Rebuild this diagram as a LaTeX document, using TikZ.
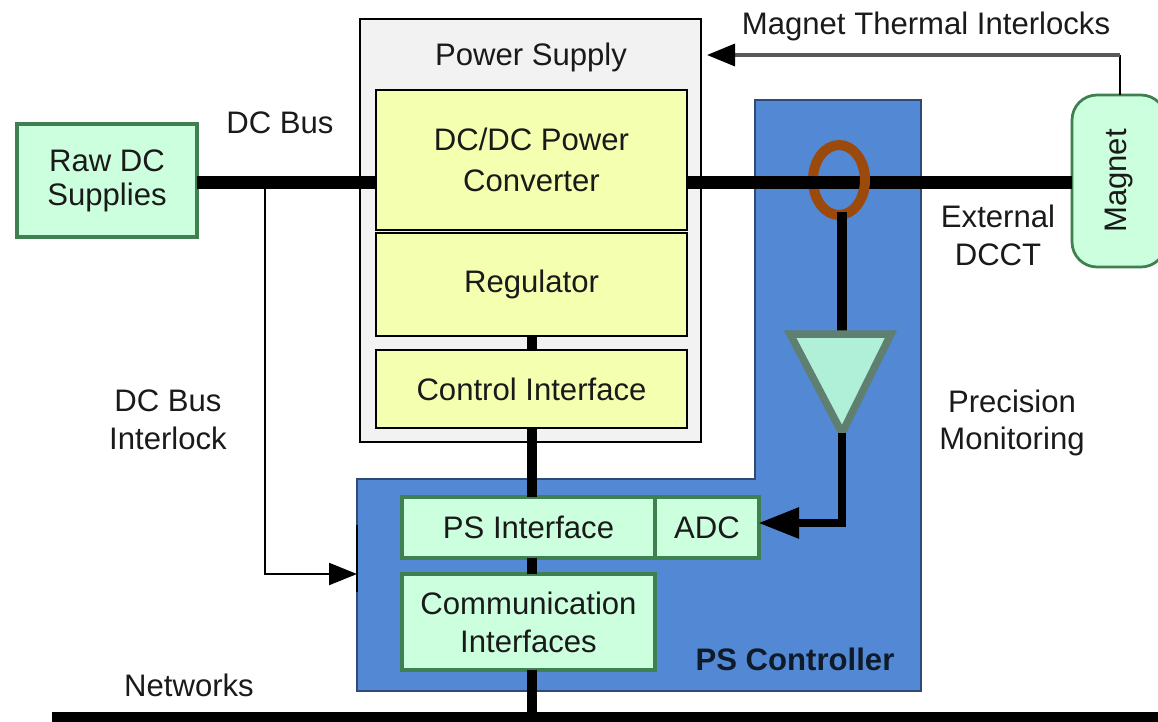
\documentclass[tikz,border=0pt]{standalone}
\usepackage{fontspec}
\setmainfont{Liberation Sans}
\usetikzlibrary{arrows.meta,shapes.geometric}
\definecolor{inkblack}{HTML}{1A1A1A}
\definecolor{mintfill}{HTML}{CCFFDD}
\definecolor{mintline}{HTML}{3F8050}
\definecolor{lemonfill}{HTML}{F5FFB0}
\definecolor{ctrlblue}{HTML}{5288D4}
\definecolor{ringbrown}{HTML}{9C4A0C}
\definecolor{ampfill}{HTML}{B0F0D8}
\definecolor{ampline}{HTML}{5F8070}
\tikzset{
  every node/.style={font=\fontsize{17.7}{21.5}\selectfont,text=inkblack,align=center,inner sep=0pt,outer sep=0pt},
  greenbox/.style={draw=mintline,fill=mintfill,line width=0.75mm},
  yellowbox/.style={draw=black,fill=lemonfill,line width=0.45mm},
  bus/.style={line width=2.6mm,black},
  signal/.style={line width=2mm,black},
  thinline/.style={line width=0.45mm,black},
  thinarrow/.style={thinline,-{Triangle[length=5.6mm,width=4.4mm]}},
  ring/.style={draw=ringbrown,line width=2mm},
}
\begin{document}
\begin{tikzpicture}[x=0.2mm,y=-0.2mm]
\clip (0,0) rectangle (1158,721);

% Power Supply
\node[draw=black,fill=black!5,line width=0.45mm,minimum width=68.2mm,minimum height=84.6mm] (supply) at (530.5,230.5) {};
\node (supplytext) at (531,57) {Power Supply};

% PS Controller
\draw[draw=black!45!ctrlblue,fill=ctrlblue,line width=0.4mm] (357,479)--(755,479)--(755,100)--(921,100)--(921,691)--(357,691)--cycle;
\node[font=\fontsize{17.7}{21.5}\selectfont\bfseries,text=black!80!ctrlblue] (ctrltext) at (795,659) {PS Controller};
\coordinate (ctrlwest) at (357,574);
\coordinate (ctrlbartop) at (357,525);
\coordinate (ctrlbarbot) at (357,592);

% Power Supply blocks
\node[yellowbox,minimum width=62.2mm,minimum height=28mm] (dcdc) at (531.5,160) {\raisebox{1.5pt}{DC/DC Power}\\Converter};
\node[yellowbox,minimum width=62.2mm,minimum height=20.6mm] (regulator) at (531.5,284.5) {Regulator};
\node[yellowbox,minimum width=62.2mm,minimum height=15.6mm] (ctrlif) at (531.5,389) {Control Interface};

% Controller blocks
\node[greenbox,minimum width=50.6mm,minimum height=12.2mm] (psif) at (528.5,527.5) {PS Interface};
\node[greenbox,minimum width=20.8mm,minimum height=12.2mm] (adc) at (707,527.5) {ADC};
\node[greenbox,minimum width=50.6mm,minimum height=19.2mm] (comm) at (528.5,622) {Communication\\Interfaces};

% Raw DC, Magnet
\node[greenbox,minimum width=36mm,minimum height=22.6mm] (rawdc) at (107,180.5) {\raisebox{-2pt}{Raw DC}\\Supplies};
\node[draw=mintline,fill=mintfill,line width=0.55mm,rounded corners=5mm,rotate=90,minimum width=34.4mm,minimum height=18.8mm] (magnet) at (1119,181) {Magnet};

% Networks line
\coordinate (netleft) at (52,718);
\coordinate (netright) at (1158,718);
\draw[bus] (netleft)--(netright);

% DC bus
\coordinate (rawbus) at (197,182);
\coordinate (dcdcin) at (376,182);
\coordinate (dcdcout) at (687,182);
\coordinate (magnetin) at (1072,182);
\coordinate (bustap) at (265,182);
\coordinate (ringcentre) at (839,180);
\node[ring,ellipse,minimum width=10.4mm,minimum height=14mm] (dcct) at (ringcentre) {};
\draw[bus] (rawbus)--(dcdcin);
\draw[bus] (dcdcout)--(magnetin);
\draw[ring] (861.5,197.5) arc[start angle=-30,end angle=30,x radius=5.2mm,y radius=7mm];

% DC bus interlock
\draw[thinarrow] (bustap)--(bustap |- ctrlwest)--(ctrlwest);
\draw[thinline] (ctrlbartop)--(ctrlbarbot);

% Vertical links
\draw[signal] (regulator.south -| ctrlif)--(ctrlif.north);
\draw[signal] (ctrlif.south)--(ctrlif.south |- psif.north);
\draw[signal] (ctrlif.south |- psif.south)--(ctrlif.south |- comm.north);
\draw[signal] (ctrlif.south |- comm.south)--(ctrlif.south |- netleft);

% Amplifier
\coordinate (ampleft) at (790,334);
\coordinate (ampright) at (891,334);
\coordinate (amptop) at (842,334);
\coordinate (amptip) at (842,433);
\coordinate (ringout) at (842,212);
\coordinate (adccorner) at (842,523);
\coordinate (adcin) at (758,523);
\draw[signal] (ringout)--(amptop);
\draw[draw=ampline,fill=ampfill,line width=1.5mm,line join=miter] (ampleft)--(ampright)--(amptip)--cycle;
\draw[signal,line width=1.7mm,-{Triangle[length=8.2mm,width=5.8mm]}] (amptip)--(adccorner)--(adcin);

% Magnet Thermal Interlocks
\coordinate (magnettop) at (1120,95);
\coordinate (thermalcorner) at (1120,55);
\coordinate (thermalend) at (707,55);
\draw[thinline] (magnettop)--(thermalcorner);
\draw[line width=0.7mm,black!65,-{Triangle[length=5.6mm,width=4.4mm,black]}] (thermalcorner)--(thermalend);

% Labels
\node (thermaltext) at (926,26) {Magnet Thermal Interlocks};
\node (dcbustext) at (280,123) {DC Bus};
\node (interlocktext) at (168,420) {DC Bus\\Interlock};
\node (dccttext) at (998,235) {External\\DCCT};
\node (monitortext) at (1012,423) {Precision\\Monitoring};
\node (nettext) at (189,685) {Networks};

\end{tikzpicture}
\end{document}
